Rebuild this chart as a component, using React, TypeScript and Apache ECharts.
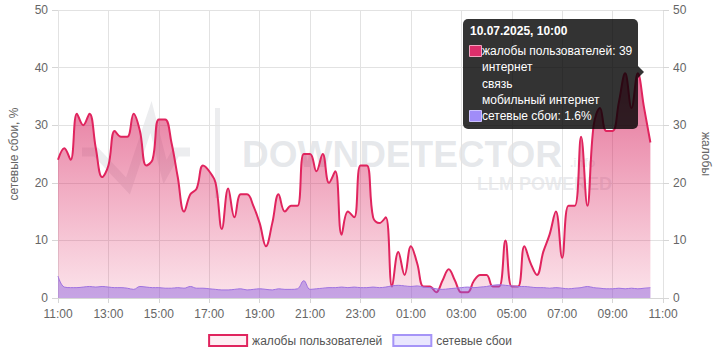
import React, { useEffect, useRef } from "react";
import * as echarts from "echarts";

const FONT = 'Arial, "Liberation Sans", sans-serif';

// 15-minute samples from 09.07.2025 11:00 to 10.07.2025 10:30
const stepHours = 0.25;
const complaints = [
  24, 26, 24, 32, 30, 32, 26, 21, 23, 29,
  28, 28, 32, 29, 23, 24, 31, 31, 27, 21,
  15, 18, 19, 23, 22, 20, 12, 19, 14, 18,
  18, 16, 13, 9, 13, 18, 15, 16, 16, 25,
  25, 22, 25, 20, 22, 11, 15, 14, 23, 23,
  14, 13, 14, 2, 8, 4, 9, 6, 2, 2,
  1, 3, 5, 3, 1, 1, 3, 4, 4, 2,
  2, 10, 2, 2, 9, 6, 4, 8, 11, 15,
  7, 16, 16, 28, 16, 30, 33, 29, 29, 34,
  39, 33, 39, 33, 27,
];
const outages = [
  3.8, 1.9, 1.8, 1.8, 1.9, 2.0, 1.9, 2.0, 1.9, 1.8,
  1.8, 1.7, 1.5, 2.0, 1.9, 1.8, 1.8, 1.7, 1.7, 1.8,
  1.7, 2.0, 1.7, 1.7, 1.6, 1.5, 1.4, 1.4, 1.5, 1.6,
  1.4, 1.5, 1.6, 1.5, 1.4, 1.6, 1.5, 1.5, 1.6, 3.0,
  1.5, 1.6, 1.7, 1.8, 1.8, 1.9, 1.8, 1.9, 1.8, 1.8,
  1.9, 1.8, 1.9, 2.1, 2.2, 2.1, 2.0, 2.1, 1.9, 1.8,
  1.6, 1.5, 1.6, 1.7, 1.8, 1.9, 1.8, 1.9, 2.0, 2.2,
  2.3, 2.2, 2.1, 2.0, 2.0, 1.9, 1.8, 1.8, 1.7, 1.8,
  1.7, 1.6, 1.7, 1.8, 2.0, 1.8, 1.7, 1.6, 1.6, 1.7,
  1.6, 1.7, 1.6, 1.7, 1.8,
];
const xTickLabels = [
  "11:00", "13:00", "15:00", "17:00", "19:00", "21:00", "23:00",
  "01:00", "03:00", "05:00", "07:00", "09:00", "11:00",
];
const seriesNames = ["жалобы пользователей", "сетевые сбои"];
const tooltipIndex = 92;
const tooltipTitle = "10.07.2025, 10:00";
const tooltipCategories = ["интернет", "связь", "мобильный интернет"];

export default function App() {
  const ref = useRef<HTMLDivElement>(null);
  useEffect(() => {
    if (!ref.current) return;
    const chart = echarts.init(ref.current, undefined, { renderer: "svg" });
    const pinkData = complaints.map((v, i) => [i * stepHours, v]);
    const purpleData = outages.map((v, i) => [i * stepHours, v]);
    const TZ = 100;
    const tipText = (t: string, y: number, bold = false) => ({
      type: "text", z: TZ + 2,
      style: {
        x: 482, y, text: t, fill: "#fff",
        font: `${bold ? "bold " : ""}12px ${FONT}`,
        verticalAlign: "middle",
      },
    });
    const option: any = {
      animation: false,
      textStyle: { fontFamily: FONT },
      grid: { left: 49, right: 50, top: 10, bottom: 62 },
      xAxis: {
        type: "value", min: 0, max: 24, interval: 2,
        axisLine: { show: true, lineStyle: { color: "#d6d6d6" } },
        axisTick: { show: true, length: 5, lineStyle: { color: "#d6d6d6" } },
        axisLabel: {
          color: "#666", fontSize: 12, margin: 10,
          formatter: (v: number) => xTickLabels[Math.round(v / 2)],
        },
        splitLine: { show: true, lineStyle: { color: "#e2e2e2" } },
      },
      yAxis: [
        {
          type: "value", min: 0, max: 50, interval: 10,
          name: "сетевые сбои, %", nameLocation: "middle", nameGap: 38,
          nameTextStyle: { color: "#666", fontSize: 12 },
          axisLine: { show: false },
          axisTick: { show: true, length: 6, lineStyle: { color: "#d6d6d6" } },
          axisLabel: { color: "#666", fontSize: 12, margin: 10 },
          splitLine: { show: true, lineStyle: { color: "#e2e2e2" } },
        },
        {
          type: "value", min: 0, max: 50, interval: 10, position: "right",
          name: "жалобы", nameLocation: "middle", nameGap: 37, nameRotate: -90,
          nameTextStyle: { color: "#666", fontSize: 12 },
          axisLine: { show: false },
          axisTick: { show: true, length: 6, lineStyle: { color: "#d6d6d6" } },
          axisLabel: { color: "#666", fontSize: 12, margin: 10 },
          splitLine: { show: false },
        },
      ],
      legend: {
        bottom: 8, left: "center", itemWidth: 38, itemHeight: 11, itemGap: 10,
        textStyle: { color: "#555", fontSize: 12 },
        data: [
          { name: seriesNames[0], icon: "rect", itemStyle: { color: "#feeef3", borderColor: "#e0245e", borderWidth: 2 } },
          { name: seriesNames[1], icon: "rect", itemStyle: { color: "#e9e6fe", borderColor: "#a594f7", borderWidth: 2 } },
        ],
      },
      series: [
        {
          name: seriesNames[0], type: "line", yAxisIndex: 1, data: pinkData,
          smooth: 0.4, symbol: "none", z: 3,
          lineStyle: { color: "#e0245e", width: 2 },
          itemStyle: { color: "#e0245e" },
          areaStyle: {
            color: new echarts.graphic.LinearGradient(0, 0, 0, 1, [
              { offset: 0, color: "rgba(210,22,86,0.88)" },
              { offset: 1, color: "rgba(224,36,94,0.18)" },
            ]),
          },
        },
        {
          name: seriesNames[1], type: "line", yAxisIndex: 0, data: purpleData,
          smooth: 0.4, symbol: "none", z: 4,
          lineStyle: { color: "#9f72e0", width: 1 },
          itemStyle: { color: "#a594f7" },
          areaStyle: { color: "rgba(140,92,222,0.68)" },
        },
      ],
      graphic: [
        {
          type: "polyline", z: 0, silent: true,
          shape: { points: [[82, 152], [96, 152], [128, 186], [151, 117], [165, 172], [176, 152], [190, 152]] },
          style: { stroke: "rgba(200,204,210,0.35)", lineWidth: 9, fill: null },
        },
        { type: "rect", z: 0, silent: true, shape: { x: 215, y: 108, width: 5, height: 90 }, style: { fill: "rgba(200,204,210,0.35)" } },
        {
          type: "text", z: 0, silent: true,
          style: { x: 242, y: 154, text: "DOWNDETECTOR", font: `bold 37px ${FONT}`, fill: "rgba(200,204,210,0.45)", verticalAlign: "middle" },
        },
        {
          type: "text", z: 0, silent: true,
          style: { x: 570, y: 163, text: ".info", font: `bold 12px ${FONT}`, fill: "rgba(200,204,210,0.35)", verticalAlign: "middle" },
        },
        {
          type: "text", z: 0, silent: true,
          style: { x: 477, y: 184, text: "LLM POWERED", font: `bold 18px ${FONT}`, fill: "rgba(200,204,210,0.4)", verticalAlign: "middle" },
        },
        { type: "rect", z: TZ, shape: { x: 463, y: 19, width: 175, height: 110, r: 5 }, style: { fill: "rgba(0,0,0,0.8)" } },
        { type: "polygon", z: TZ, shape: { points: [[638, 66], [644, 72], [638, 78]] }, style: { fill: "rgba(0,0,0,0.8)" } },
        {
          type: "text", z: TZ + 2,
          style: { x: 470, y: 31, text: tooltipTitle, fill: "#fff", font: `bold 12px ${FONT}`, verticalAlign: "middle" },
        },
        { type: "rect", z: TZ + 2, shape: { x: 469.5, y: 45.5, width: 12, height: 11 }, style: { fill: "#dc2f6b", stroke: "#f4a3bf", lineWidth: 1 } },
        tipText(`${seriesNames[0]}: ${complaints[tooltipIndex]}`, 51),
        tipText(tooltipCategories[0], 67),
        tipText(tooltipCategories[1], 84),
        tipText(tooltipCategories[2], 100),
        { type: "rect", z: TZ + 2, shape: { x: 469.5, y: 110.5, width: 12, height: 11 }, style: { fill: "#a08cf8", stroke: "#cbc1fd", lineWidth: 1 } },
        tipText(`${seriesNames[1]}: ${outages[tooltipIndex]}%`, 116),
      ],
    };
    chart.setOption(option);
    return () => chart.dispose();
  }, []);
  return (
    <div
      ref={ref}
      style={{ position: "fixed", left: 0, top: 0, width: 720, height: 360, background: "#fff" }}
    />
  );
}
